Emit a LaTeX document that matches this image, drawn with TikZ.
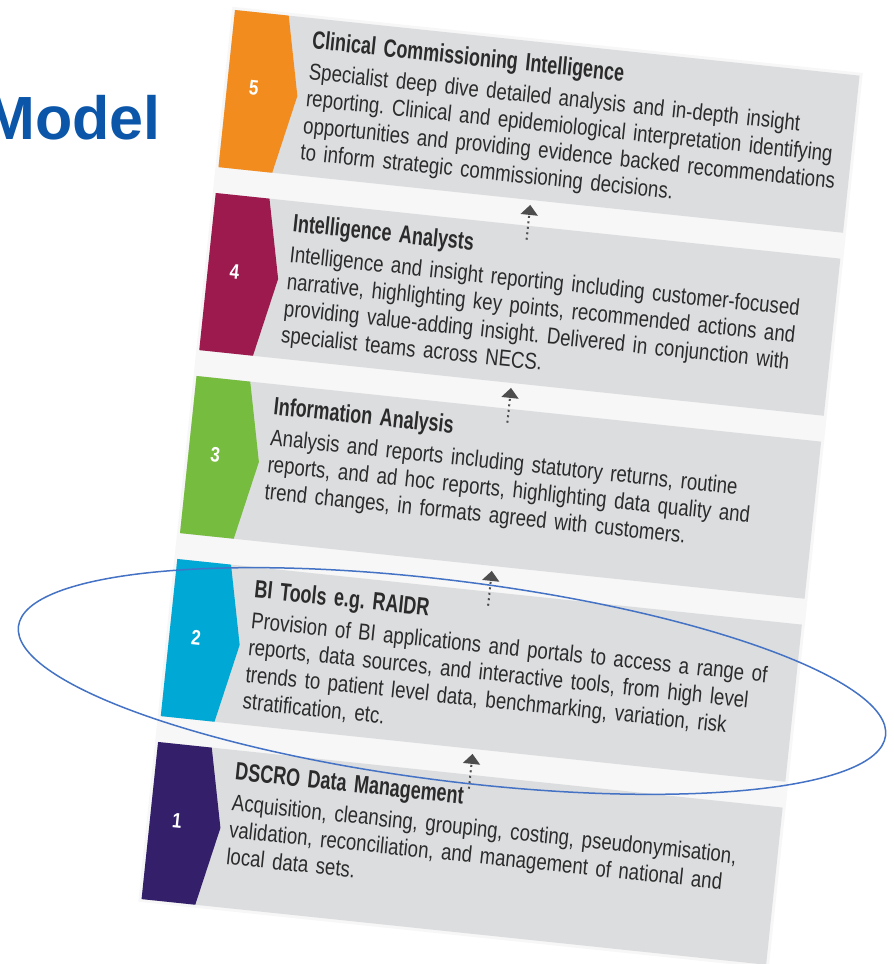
\documentclass[tikz,border=0pt]{standalone}
\usepackage{fontspec}
\setmainfont{Liberation Sans}[FakeStretch=0.81]
\newfontfamily\headfont{Liberation Sans}
\newfontfamily\tierfont{Liberation Sans}[FakeStretch=0.72]
\usepackage{xcolor}
\usetikzlibrary{arrows.meta,positioning}
\frenchspacing

\definecolor{tierfive}{HTML}{F28C1F}
\definecolor{tierfour}{HTML}{9C1A4E}
\definecolor{tierthree}{HTML}{76BC3E}
\definecolor{tiertwo}{HTML}{00A8D6}
\definecolor{tierone}{HTML}{34206A}
\definecolor{panelgray}{HTML}{DCDDDF}
\definecolor{gapgray}{HTML}{F7F7F7}
\definecolor{bodytext}{HTML}{2B2B2B}
\definecolor{arrowgray}{HTML}{4D4D4D}
\definecolor{modelblue}{HTML}{0B56A8}
\definecolor{ringblue}{HTML}{4472C4}

% bold tier heading
\newcommand{\tierhead}[1]{{\tierfont\bfseries\fontsize{25}{27}\selectfont #1}}

\begin{document}
\begin{tikzpicture}[
    x=1pt, y=1pt,
    panel/.style={fill=panelgray, minimum width=628pt, minimum height=158pt, inner sep=0pt, outer sep=0pt},
    txt/.style={inner sep=0pt, text width=560pt, align=left, text=bodytext, font=\fontsize{23}{27}\selectfont},
    num/.style={text=white, font=\fontsize{21}{21}\selectfont\bfseries},
    uparr/.style={arrowgray, line width=2pt, dash pattern=on 2pt off 3.5pt, -{Triangle[length=10pt, width=17pt]}, shorten >=5pt},
    ring/.style={ringblue, line width=1.5pt}
]
\useasboundingbox (0,0) rectangle (894,964);

\node[anchor=base east, inner sep=0pt, text=modelblue, font=\headfont\bfseries\fontsize{61}{61}\selectfont] (model) at (161,824) {Model};

\begin{scope}[shift={(235,954)}, rotate=-6, transform shape]
\fill[gapgray] (-3,3) rectangle (631,-897);

% the five tiers, top to bottom
\node[panel, anchor=north west] (b5) at (0,0) {};
\node[panel, below=26pt of b5] (b4) {};
\node[panel, below=26pt of b4] (b3) {};
\node[panel, below=26pt of b3] (b2) {};
\node[panel, below=26pt of b2] (b1) {};

\fill[tierfive] (b5.north west) -- ++(54,0) -- ++(17,-79) -- ++(-17,-79) -- ++(-54,0) -- cycle;
\fill[tierfour] (b4.north west) -- ++(54,0) -- ++(17,-79) -- ++(-17,-79) -- ++(-54,0) -- cycle;
\fill[tierthree] (b3.north west) -- ++(54,0) -- ++(17,-79) -- ++(-17,-79) -- ++(-54,0) -- cycle;
\fill[tiertwo] (b2.north west) -- ++(54,0) -- ++(17,-79) -- ++(-17,-79) -- ++(-54,0) -- cycle;
\fill[tierone] (b1.north west) -- ++(54,0) -- ++(17,-79) -- ++(-17,-79) -- ++(-54,0) -- cycle;

\path (b5.west) ++(27,3) node[num] (n5) {5};
\path (b4.west) ++(27,3) node[num] (n4) {4};
\path (b3.west) ++(27,3) node[num] (n3) {3};
\path (b2.west) ++(27,3) node[num] (n2) {2};
\path (b1.west) ++(27,3) node[num] (n1) {1};

\node[txt, below right=12pt and 80pt of b5.north west] (t5) {\tierhead{Clinical Commissioning Intelligence}\\[4pt]
Specialist deep dive detailed analysis and in-depth insight\\
reporting. Clinical and epidemiological interpretation identifying\\
opportunities and providing evidence backed recommendations\\
to inform strategic commissioning decisions.};
\node[txt, below right=12pt and 80pt of b4.north west] (t4) {\tierhead{Intelligence Analysts}\\[4pt]
Intelligence and insight reporting including customer-focused\\
narrative, highlighting key points, recommended actions and\\
providing value-adding insight. Delivered in conjunction with\\
specialist teams across NECS.};
\node[txt, below right=12pt and 80pt of b3.north west] (t3) {\tierhead{Information Analysis}\\[4pt]
Analysis and reports including statutory returns, routine\\
reports, and ad hoc reports, highlighting data quality and\\
trend changes, in formats agreed with customers.};
\node[txt, below right=12pt and 80pt of b2.north west] (t2) {\tierhead{BI Tools e.g. RAIDR}\\[4pt]
Provision of BI applications and portals to access a range of\\
reports, data sources, and interactive tools, from high level\\
trends to patient level data, benchmarking, variation, risk\\
stratification, etc.};
\node[txt, below right=12pt and 80pt of b1.north west] (t1) {\tierhead{DSCRO Data Management}\\[4pt]
Acquisition, cleansing, grouping, costing, pseudonymisation,\\
validation, reconciliation, and management of national and\\
local data sets.};

\draw[uparr] (b1.north) ++(0,-14) -- (b2.south);
\draw[uparr] (b2.north) ++(0,-14) -- (b3.south);
\draw[uparr] (b3.north) ++(0,-14) -- (b4.south);
\draw[uparr] (b4.north) ++(0,-14) -- (b5.south);
\end{scope}

% highlight round the BI tier
\draw[ring, rotate around={-7.2:(452,283)}] (452,283) ellipse [x radius=437, y radius=100];
\end{tikzpicture}
\end{document}
